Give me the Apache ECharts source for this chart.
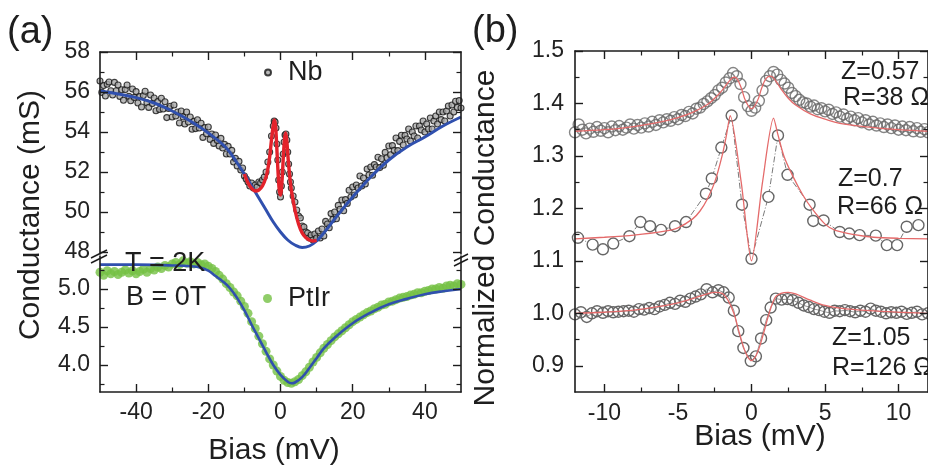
<!DOCTYPE html>
<html>
<head>
<meta charset="utf-8">
<script src="https://cdn.jsdelivr.net/npm/echarts@6/dist/echarts.min.js"></script>
<style>
html,body{margin:0;padding:0;background:#fff}
#chart{width:928px;height:468px}
</style>
</head>
<body>
<div id="chart"></div>
<script>
// ---------- Panel (a): Nb tip, upper axis segment (mS) ----------
const nbPoints = [
[-50,56.55],[-49.5,55.98],[-49,56.32],[-48.5,55.8],[-48,56.39],[-47.5,56.5],[-47,56.06],[-46.5,55.85],[-46,56.48],[-45.5,56.06],
[-45,56.35],[-44.5,55.78],[-44,56.11],[-43.5,55.59],[-43,56.12],[-42.5,56.35],[-42,55.78],[-41.5,55.56],[-41,56.15],[-40.5,55.73],
[-40,56.02],[-39.5,55.45],[-39,55.77],[-38.5,55.25],[-38,55.82],[-37.5,56.04],[-37,55.46],[-36.5,55.23],[-36,55.85],[-35.5,55.42],
[-35,55.7],[-34.5,55.06],[-34,55.52],[-33.5,55.13],[-33,55.69],[-32.5,55.15],[-32,55.51],[-31.5,54.72],[-31,55.18],[-30.5,55.29],
[-30,54.75],[-29.5,55.35],[-29,54.8],[-28.5,55.0],[-28,54.45],[-27.5,55.05],[-27,54.75],[-26.5,54.4],[-26,55.0],[-25.5,54.5],
[-25,54.75],[-24.5,54.14],[-24,54.53],[-23.5,54.17],[-23,54.61],[-22.5,54.2],[-22,54.44],[-21.5,53.73],[-21,54.22],[-20.5,53.91],
[-20,54.25],[-19.5,53.63],[-19,53.9],[-18.5,53.43],[-18,53.85],[-17.5,53.58],[-17,53.3],[-16.5,53.68],[-16,53.2],[-15.5,53.38],
[-15,52.9],[-14.5,53.28],[-14,52.9],[-13.5,53.08],[-13,52.5],[-12.5,52.68],[-12,52.3],[-11.5,52.53],[-11,52.1],[-10.5,52.2],
[-10,51.8],[-9.5,51.65],[-9,51.5],[-8.5,51.3],[-8,51.45],[-7.5,51.2],[-7,51.35],[-6.5,51.25],[-6,51.5],[-5.5,51.45],
[-5,51.6],[-4.5,51.75],[-4,52.0],[-3.5,52.5],[-3,53.0],[-2.5,53.8],[-2,54.3],[-1.75,54.55],[-1.5,54.5],[-1.25,54.2],
[-1,53.4],[-0.75,52.6],[-0.5,51.6],[-0.25,51.0],[0,50.75],[0.25,51.3],[0.5,52.0],[0.75,52.9],[1,53.5],[1.25,53.85],
[1.5,53.9],[1.75,53.6],[2,53.0],[2.25,52.4],[2.5,51.9],[2.75,51.5],[3,51.2],[3.5,50.8],[4,50.5],[4.5,50.1],
[5,49.8],[5.5,49.7],[6,49.3],[6.5,49.25],[7,49.0],[7.5,48.95],[8,48.7],[8.5,48.85],[9,48.6],[9.5,48.9],
[10,48.7],[10.5,49.05],[11,48.7],[11.5,49.15],[12,48.8],[12.5,49.53],[13,49.4],[13.5,49.21],[14,49.92],[14.5,49.63],
[15,50.0],[15.5,49.66],[16,50.33],[16.5,50.14],[17,50.6],[17.5,50.06],[18,50.62],[18.5,50.43],[19,51.09],[19.5,50.75],
[20,51.25],[20.5,50.85],[21,51.35],[21.5,51.2],[22,51.8],[22.5,51.3],[23,51.7],[23.5,51.4],[24,52.15],[24.5,51.85],
[25,52.25],[25.5,51.84],[26,52.37],[26.5,52.25],[27,52.74],[27.5,52.22],[28,52.66],[28.5,52.34],[29,52.98],[29.5,52.71],
[30,53.3],[30.5,52.86],[31,53.32],[31.5,53.08],[32,53.7],[32.5,53.07],[33,53.53],[33.5,53.84],[34,53.35],[34.5,53.83],
[35,53.65],[35.5,54.15],[36,53.55],[36.5,54.0],[37,53.8],[37.5,54.3],[38,53.7],[38.5,54.3],[39,54.1],[39.5,54.55],
[40,54.0],[40.5,54.4],[41,54.15],[41.5,54.7],[42,54.15],[42.5,54.55],[43,54.8],[43.5,54.4],[44,55.0],[44.5,54.62],
[45,55.0],[45.5,54.55],[46,55.05],[46.5,55.3],[47,54.8],[47.5,55.35],[48,55.0],[48.5,55.54],[49,55.23],[49.5,55.57],[50,55.2]
];
// normal-state background fit
const nbBackground = [
[-50,56.05],[-45,55.9],[-40,55.72],[-35,55.45],[-30,55.05],[-25,54.55],[-20,53.95],[-15,53.2],[-12,52.45],[-10,51.9],
[-8,51.3],[-6,50.7],[-4,50.1],[-2,49.5],[0,49.0],[2,48.6],[4,48.35],[6,48.22],[8,48.3],[10,48.55],[12,48.95],
[15,49.65],[20,50.75],[25,51.75],[30,52.6],[35,53.25],[40,53.75],[45,54.3],[50,54.75]
];
// fit including the superconducting coherence peaks
const nbPeakFit = [
[-10,51.9],[-9,51.45],[-8,51.18],[-7,51.05],[-6,51.1],[-5,51.3],[-4,51.75],[-3.5,52.15],[-3,52.75],[-2.5,53.6],
[-2,54.35],[-1.7,54.6],[-1.4,54.35],[-1.1,53.5],[-0.8,52.4],[-0.4,51.2],[0,50.85],[0.4,51.5],[0.8,52.8],[1.1,53.6],
[1.4,53.95],[1.7,53.65],[2.1,52.7],[2.6,51.7],[3,51.1],[4,50.1],[5,49.4],[6,48.95],[7,48.72],[8,48.6],[9,48.55],[10,48.58]
];

// ---------- Panel (a): PtIr tip, lower axis segment (mS) ----------
const ptirPoints = [
[-50,5.22],[-49,5.18],[-48,5.24],[-47,5.2],[-46,5.23],[-45,5.19],[-44,5.22],[-43,5.25],[-42,5.21],[-41,5.24],
[-40,5.2],[-39,5.23],[-38,5.26],[-37,5.22],[-36,5.27],[-35,5.25],[-34,5.29],[-33,5.27],[-32,5.31],[-31,5.29],
[-30,5.33],[-29,5.35],[-28,5.32],[-27,5.37],[-26,5.34],[-25,5.36],[-24,5.33],[-23,5.35],[-22,5.32],[-21,5.33],
[-20,5.3],[-19,5.27],[-18,5.23],[-17,5.18],[-16,5.13],[-15,5.07],[-14,5.02],[-13,4.96],[-12,4.91],[-11,4.84],
[-10,4.77],[-9,4.68],[-8,4.57],[-7,4.48],[-6,4.38],[-5,4.28],[-4,4.18],[-3,4.08],[-2,4.0],[-1,3.92],
[0,3.85],[1,3.8],[2,3.77],[3,3.76],[4,3.78],[5,3.81],[6,3.86],[7,3.91],[8,3.97],[9,4.04],
[10,4.1],[11,4.16],[12,4.22],[13,4.27],[14,4.32],[15,4.37],[16,4.41],[17,4.45],[18,4.49],[19,4.53],
[20,4.57],[21,4.6],[22,4.63],[23,4.66],[24,4.69],[25,4.71],[26,4.74],[27,4.76],[28,4.79],[29,4.8],
[30,4.83],[31,4.84],[32,4.86],[33,4.88],[34,4.89],[35,4.9],[36,4.92],[37,4.93],[38,4.95],[39,4.95],
[40,4.97],[41,4.98],[42,5.0],[43,5.0],[44,5.02],[45,5.01],[46,5.04],[47,5.05],[48,5.04],[49,5.07],[50,5.06]
];
const ptirFit = [
[-50,5.32],[-40,5.32],[-30,5.31],[-25,5.3],[-22,5.28],[-20,5.24],[-18,5.17],[-16,5.1],[-14,5.01],[-12,4.88],
[-10,4.72],[-8,4.53],[-6,4.35],[-4,4.17],[-2,4.0],[0,3.87],[2,3.78],[3,3.76],[4,3.77],[6,3.84],[8,3.96],
[10,4.09],[12,4.22],[15,4.36],[20,4.55],[25,4.69],[30,4.8],[35,4.87],[40,4.93],[45,4.97],[50,5.0]
];

// ---------- Panel (b): normalized conductance for three contacts ----------
const z057Points = [
[-12,1.345],[-11.75,1.36],[-11.5,1.35],[-11.25,1.343],[-11,1.352],[-10.75,1.346],[-10.5,1.355],[-10.25,1.348],[-10,1.353],[-9.75,1.345],
[-9.5,1.356],[-9.25,1.349],[-9,1.357],[-8.75,1.35],[-8.5,1.354],[-8.25,1.36],[-8,1.352],[-7.75,1.359],[-7.5,1.354],[-7.25,1.362],
[-7,1.356],[-6.75,1.365],[-6.5,1.359],[-6.25,1.368],[-6,1.364],[-5.75,1.37],[-5.5,1.367],[-5.25,1.374],[-5,1.37],[-4.75,1.378],
[-4.5,1.376],[-4.25,1.384],[-4,1.381],[-3.75,1.39],[-3.5,1.392],[-3.25,1.399],[-3,1.404],[-2.75,1.41],[-2.5,1.416],[-2.25,1.425],
[-2,1.43],[-1.75,1.44],[-1.5,1.448],[-1.25,1.458],[-1,1.452],[-0.75,1.437],[-0.5,1.412],[-0.25,1.395],[0,1.386],[0.25,1.392],
[0.5,1.405],[0.75,1.425],[1,1.443],[1.25,1.452],[1.5,1.46],[1.75,1.455],[2,1.445],[2.25,1.438],[2.5,1.43],[2.75,1.42],
[3,1.414],[3.25,1.407],[3.5,1.402],[3.75,1.4],[4,1.394],[4.25,1.396],[4.5,1.389],[4.75,1.391],[5,1.385],[5.25,1.388],
[5.5,1.38],[5.75,1.383],[6,1.375],[6.25,1.379],[6.5,1.371],[6.75,1.375],[7,1.368],[7.25,1.372],[7.5,1.364],[7.75,1.368],
[8,1.36],[8.25,1.365],[8.5,1.358],[8.75,1.362],[9,1.355],[9.25,1.36],[9.5,1.353],[9.75,1.358],[10,1.35],[10.25,1.356],
[10.5,1.349],[10.75,1.355],[11,1.347],[11.25,1.353],[11.5,1.346],[11.75,1.351],[12,1.345]
];
const z057Fit = [
[-12,1.347],[-10,1.35],[-8,1.356],[-6,1.366],[-5,1.373],[-4,1.383],[-3,1.398],[-2.5,1.41],[-2,1.425],[-1.5,1.443],
[-1.2,1.45],[-1,1.448],[-0.7,1.43],[-0.4,1.405],[0,1.39],[0.4,1.405],[0.7,1.43],[1,1.448],[1.3,1.452],[1.6,1.445],
[2,1.428],[2.5,1.41],[3,1.397],[4,1.38],[5,1.37],[6,1.362],[8,1.355],[10,1.35],[12,1.347]
];
const z07Points = [
[-11.8,1.144],[-10.8,1.131],[-10.1,1.122],[-9.4,1.133],[-8.3,1.147],[-7.55,1.174],[-6.9,1.166],[-6.15,1.159],[-5.2,1.166],[-4.45,1.174],
[-3.1,1.228],[-2.7,1.257],[-2.05,1.316],[-1.35,1.377],[-0.65,1.207],[0,1.104],[1.15,1.222],[1.8,1.339],[2.45,1.264],[3.95,1.207],
[4.2,1.176],[4.9,1.177],[6.0,1.155],[6.65,1.152],[7.35,1.149],[8.45,1.148],[9.2,1.13],[9.9,1.13],[10.55,1.165],[11.35,1.168]
];
const z07Fit = [
[-12,1.142],[-10,1.145],[-8,1.149],[-6,1.156],[-5,1.163],[-4,1.18],[-3.5,1.195],[-3,1.218],[-2.5,1.25],[-2,1.3],
[-1.7,1.34],[-1.45,1.377],[-0.7,1.25],[0,1.1],[0.75,1.25],[1.5,1.372],[1.8,1.34],[2.2,1.3],[2.8,1.262],[3.5,1.225],
[4.1,1.2],[5,1.17],[5.7,1.158],[7,1.15],[8.3,1.145],[10,1.143],[12,1.142]
];
const z105Points = [
[-12,0.998],[-11.6,1.002],[-11.2,0.993],[-10.85,1.0],[-10.5,1.004],[-10.1,1.001],[-9.75,1.004],[-9.4,1.002],[-9.05,1.003],[-8.7,1.004],
[-8.35,1.005],[-8.0,1.003],[-7.65,1.008],[-7.3,1.007],[-6.95,1.01],[-6.6,1.008],[-6.25,1.013],[-5.9,1.016],[-5.55,1.02],[-5.2,1.018],
[-4.85,1.024],[-4.5,1.022],[-4.15,1.028],[-3.8,1.032],[-3.45,1.036],[-3.05,1.046],[-2.65,1.04],[-2.25,1.044],[-1.9,1.04],[-1.55,1.03],
[-1.2,1.005],[-0.9,0.966],[-0.55,0.934],[-0.05,0.909],[0.3,0.918],[0.65,0.952],[1.0,0.987],[1.3,1.011],[1.65,1.028],[2.05,1.026],
[2.45,1.027],[2.8,1.025],[3.2,1.02],[3.55,1.015],[3.9,1.012],[4.25,1.008],[4.6,1.006],[4.95,1.003],[5.3,1.001],[5.65,1.005],
[6.0,1.004],[6.35,1.006],[6.7,1.004],[7.05,1.002],[7.4,1.005],[7.75,1.003],[8.1,1.009],[8.45,1.005],[8.8,1.003],[9.15,1.0],
[9.5,1.002],[9.85,1.001],[10.2,1.003],[10.55,0.999],[10.9,1.001],[11.25,1.003],[11.6,0.998],[12,1.0]
];
const z105Fit = [
[-12,1.0],[-10,1.002],[-8,1.006],[-6,1.014],[-5,1.02],[-4,1.028],[-3,1.037],[-2.5,1.04],[-2,1.038],[-1.6,1.025],
[-1.2,1.0],[-0.8,0.96],[-0.4,0.925],[0,0.91],[0.4,0.925],[0.8,0.96],[1.2,1.0],[1.6,1.03],[2,1.038],[2.5,1.04],
[3,1.037],[4,1.025],[5,1.015],[6,1.01],[8,1.005],[10,1.002],[12,1.0]
];

// ---------- tick positions ----------
const biasTicksA = [-40, -20, 0, 20, 40];
const biasMinorA = [-30, -10, 10, 30];
const nbTicks = [48, 50, 52, 54, 56, 58];
const nbMinor = [49, 51, 53, 55, 57];
const ptTicks = [4.0, 4.5, 5.0];
const ptMinor = [3.75, 4.25, 4.75, 5.25];
const biasTicksB = [-10, -5, 0, 5, 10];
const biasMinorB = [-7.5, -2.5, 2.5, 7.5];
const normTicks = [0.9, 1.0, 1.1, 1.2, 1.3, 1.4, 1.5];
const normMinor = [0.95, 1.05, 1.15, 1.25, 1.35, 1.45];

const FONT = '"Liberation Sans", Arial, Helvetica, sans-serif';
const INK = '#1c1c1c';

// one major axis (line, long ticks, optional labels) plus a twin carrying the short minor ticks
function axisPair(gridIndex, position, min, max, majors, minors, showLabels, fmt, margin) {
  const base = { type: 'value', gridIndex, position, min, max, splitLine: { show: false }, z: 6 };
  const major = Object.assign({}, base, {
    axisLine: { show: true, onZero: false, lineStyle: { color: INK, width: 1.6 } },
    axisTick: { show: true, inside: true, length: 8, customValues: majors, lineStyle: { color: INK, width: 1.4 } },
    axisLabel: { show: showLabels, customValues: majors, formatter: fmt, margin: margin || 8,
                 fontFamily: FONT, fontSize: 23, color: '#222' }
  });
  const minor = Object.assign({}, base, {
    axisLine: { show: false, onZero: false },
    axisTick: { show: true, inside: true, length: 4.5, customValues: minors, lineStyle: { color: INK, width: 1.2 } },
    axisLabel: { show: false }
  });
  return [major, minor];
}

const intFmt = v => String(Math.round(v));
const oneDec = v => Number(v).toFixed(1);

const xAxes = [].concat(
  axisPair(0, 'top', -50, 50, biasTicksA, biasMinorA, false),          // 0,1
  axisPair(1, 'bottom', -50, 50, biasTicksA, biasMinorA, true, intFmt, 9), // 2,3
  axisPair(2, 'bottom', -12, 12, biasTicksB, biasMinorB, true, intFmt, 10), // 4,5
  axisPair(2, 'top', -12, 12, biasTicksB, biasMinorB, false)            // 6,7
);
const yAxes = [].concat(
  axisPair(0, 'left', 47.9, 58, nbTicks, nbMinor, true, intFmt, 10),    // 0,1
  axisPair(0, 'right', 47.9, 58, nbTicks, nbMinor, false),              // 2,3
  axisPair(1, 'left', 3.645, 5.434, ptTicks, ptMinor, true, oneDec, 10),// 4,5
  axisPair(1, 'right', 3.645, 5.434, ptTicks, ptMinor, false),          // 6,7
  axisPair(2, 'left', 0.85, 1.5, normTicks, normMinor, true, oneDec, 11),// 8,9
  axisPair(2, 'right', 0.85, 1.5, normTicks, normMinor, false)          // 10,11
);

const ringStyle = { color: 'rgba(255,255,255,0)', borderColor: '#666666', borderWidth: 1.4 };
const fitRed = { color: '#e46a6a', width: 1.3 };

const series = [
  { name: 'Nb', type: 'scatter', xAxisIndex: 0, yAxisIndex: 0, data: nbPoints, symbol: 'circle', symbolSize: 6,
    itemStyle: { color: '#a8a8a8', borderColor: '#141414', borderWidth: 1.1 }, z: 2 },
  { type: 'line', xAxisIndex: 0, yAxisIndex: 0, data: nbBackground, smooth: 0.4, symbol: 'none',
    lineStyle: { color: '#3050ae', width: 3 }, z: 3 },
  { type: 'line', xAxisIndex: 0, yAxisIndex: 0, data: nbPeakFit, smooth: 0.3, symbol: 'none',
    lineStyle: { color: '#e3222b', width: 3.4 }, z: 4 },

  { name: 'PtIr', type: 'scatter', xAxisIndex: 2, yAxisIndex: 4, data: ptirPoints, symbol: 'circle', symbolSize: 9,
    itemStyle: { color: '#74c044' }, z: 2 },
  { type: 'line', xAxisIndex: 2, yAxisIndex: 4, data: ptirFit, smooth: 0.4, symbol: 'none',
    lineStyle: { color: '#3050ae', width: 2.6 }, z: 3 },

  { name: 'Z=0.57', type: 'scatter', xAxisIndex: 4, yAxisIndex: 8, data: z057Points, symbol: 'circle', symbolSize: 11,
    itemStyle: ringStyle, z: 2 },
  { type: 'line', xAxisIndex: 4, yAxisIndex: 8, data: z057Fit, smooth: 0.4, symbol: 'none', lineStyle: fitRed, z: 4 },

  { name: 'Z=0.7', type: 'line', xAxisIndex: 4, yAxisIndex: 8, data: z07Points, symbol: 'circle', symbolSize: 11,
    showAllSymbol: true, itemStyle: { color: '#fff', borderColor: '#666666', borderWidth: 1.4 },
    lineStyle: { color: '#7a7a7a', width: 1, type: [6, 2, 1, 2] }, z: 3 },
  { type: 'line', xAxisIndex: 4, yAxisIndex: 8, data: z07Fit, smooth: 0.25, symbol: 'none', lineStyle: fitRed, z: 4 },

  { name: 'Z=1.05', type: 'line', xAxisIndex: 4, yAxisIndex: 8, data: z105Points, symbol: 'circle', symbolSize: 11,
    showAllSymbol: true, itemStyle: { color: 'rgba(255,255,255,0)', borderColor: '#666666', borderWidth: 1.4 },
    lineStyle: { color: '#7a7a7a', width: 0.8 }, z: 3 },
  { type: 'line', xAxisIndex: 4, yAxisIndex: 8, data: z105Fit, smooth: 0.35, symbol: 'none', lineStyle: fitRed, z: 4 }
];

const txt = (text, x, y, size, align, rot) => ({
  type: 'text', x, y, rotation: rot || 0, z: 10,
  style: { text, fontFamily: FONT, fontSize: size, fill: '#1e1e1e',
           textAlign: align || 'left', textVerticalAlign: 'middle' }
});
const stroke = (x1, y1, x2, y2) => ({
  type: 'line', z: 10, shape: { x1, y1, x2, y2 }, style: { stroke: INK, lineWidth: 1.5 }
});

const chart = echarts.init(document.getElementById('chart'), null, { renderer: 'canvas' });
chart.setOption({
  backgroundColor: '#fff',
  animation: false,
  grid: [
    { left: 100, top: 52, width: 361, height: 202 },
    { left: 100, top: 256, width: 361, height: 136 },
    { left: 575, top: 51, width: 361, height: 341 }
  ],
  xAxis: xAxes,
  yAxis: yAxes,
  legend: [
    { data: ['Nb'], left: 259, top: 54, padding: 5, itemWidth: 6, itemHeight: 6, selectedMode: false,
      textStyle: { fontFamily: FONT, fontSize: 27, color: '#1e1e1e', padding: [0, 0, 0, 12] } },
    { data: ['PtIr'], left: 258, top: 280, padding: 5, itemWidth: 9, itemHeight: 9, selectedMode: false,
      textStyle: { fontFamily: FONT, fontSize: 27, color: '#1e1e1e', padding: [0, 0, 0, 11] } }
  ],
  series,
  graphic: [
    txt('(a)', 7, 33, 38),
    txt('(b)', 472, 32, 38),
    txt('Conductance (mS)', 31, 215, 30, 'center', Math.PI / 2),
    txt('Normalized Conductance', 486, 238, 30, 'center', Math.PI / 2),
    txt('Bias (mV)', 274, 451, 30, 'center'),
    txt('Bias (mV)', 760, 437, 30, 'center'),
    txt('T = 2K', 125, 264, 27),
    txt('B = 0T', 126, 298, 27),
    txt('Z=0.57', 841, 72, 25),
    txt('R=38 \u03A9', 843, 98, 25),
    txt('Z=0.7', 838, 179, 25),
    txt('R=66 \u03A9', 837, 207, 25),
    txt('Z=1.05', 832, 338, 25),
    txt('R=126 \u03A9', 832, 368, 25),
    // axis break marks
    stroke(91, 258, 107, 250), stroke(91, 263, 107, 255),
    stroke(454, 261, 468, 254), stroke(454, 266, 468, 259)
  ]
});
</script>
</body>
</html>
